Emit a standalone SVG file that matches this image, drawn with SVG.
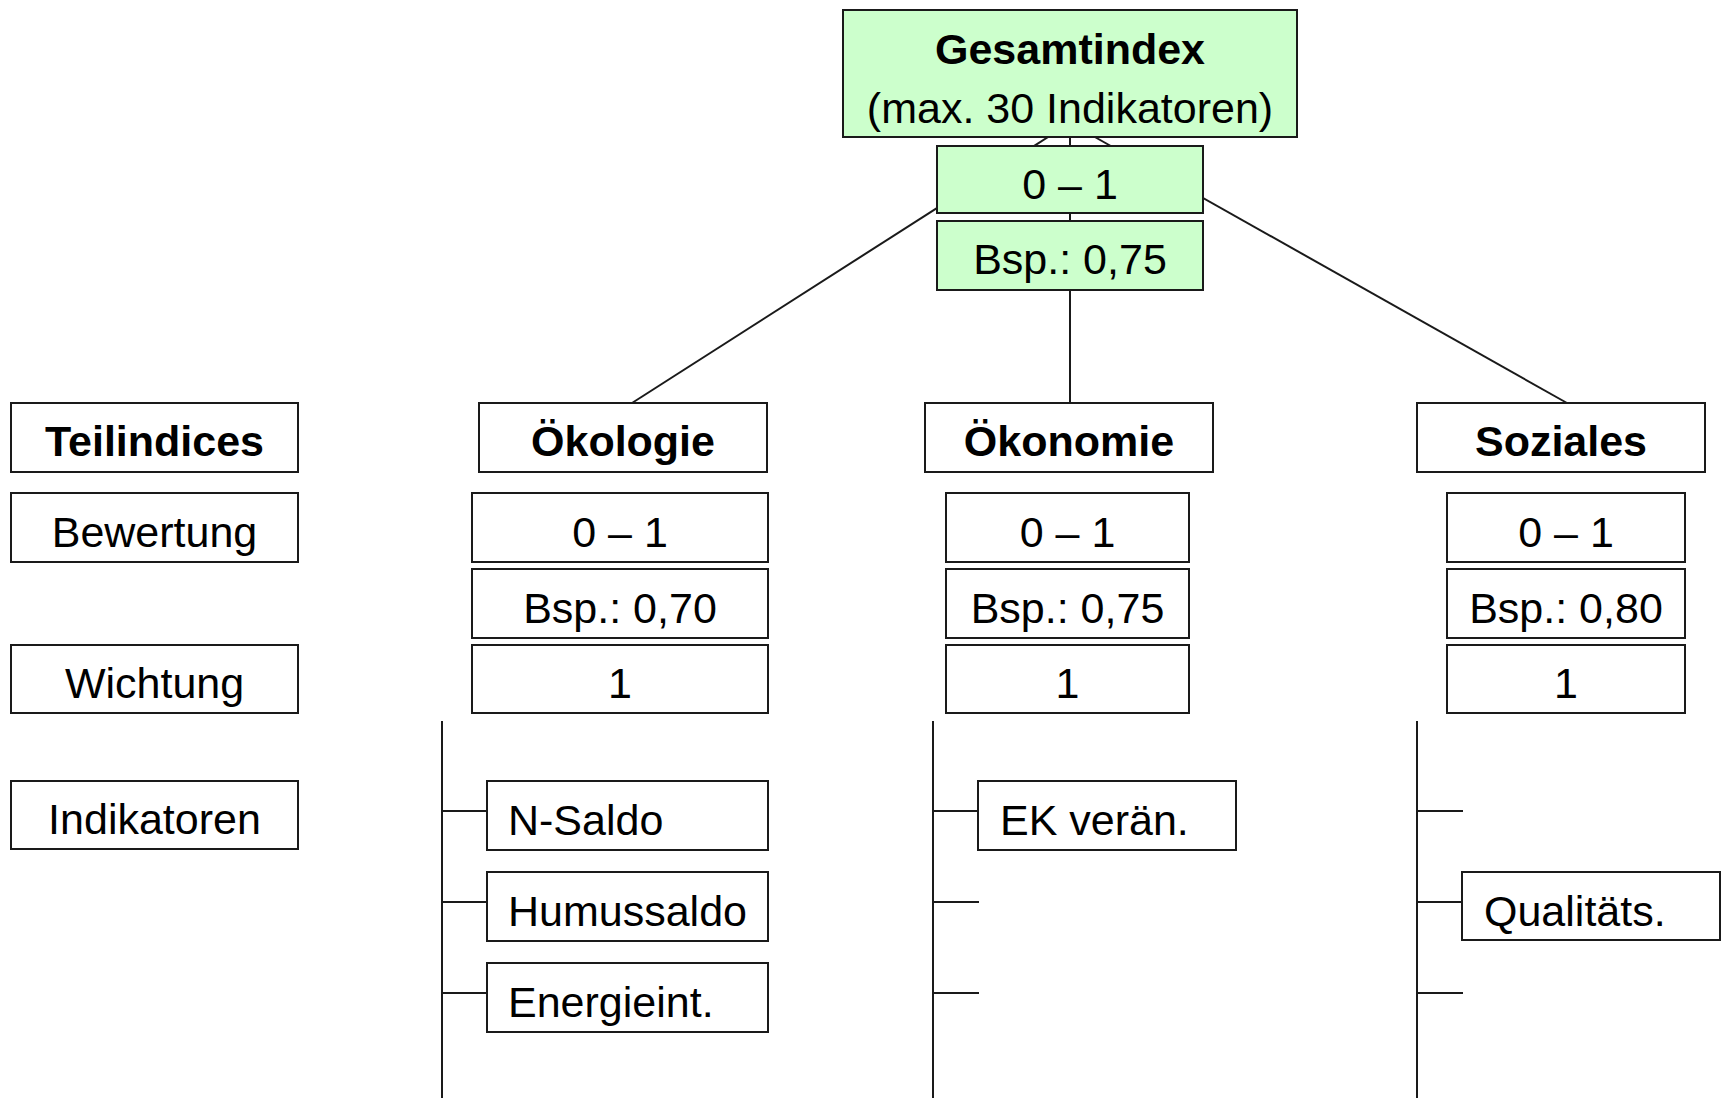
<svg xmlns="http://www.w3.org/2000/svg" width="1725" height="1106" viewBox="0 0 1725 1106">
<style>
.box{fill:#ffffff;stroke:#1a1a1a;stroke-width:2}
.green{fill:#ccffcc;stroke:#1a1a1a;stroke-width:2}
.t{font-family:"Liberation Sans",Arial,sans-serif;font-size:43px;fill:#000;text-anchor:middle}
.tl{font-family:"Liberation Sans",Arial,sans-serif;font-size:43px;fill:#000;text-anchor:start}
.b{font-weight:bold}
.ln{stroke:#1a1a1a;stroke-width:2;fill:none}
</style>
<rect width="1725" height="1106" fill="#ffffff"/>
<g id="connectors">
<line class="ln" x1="1070" y1="123" x2="632" y2="403"/>
<line class="ln" x1="1070" y1="123" x2="1567" y2="403"/>
<line class="ln" x1="1070" y1="123" x2="1070" y2="403"/>
<line class="ln" x1="442" y1="721" x2="442" y2="1098"/>
<line class="ln" x1="442" y1="811" x2="487" y2="811"/>
<line class="ln" x1="442" y1="902" x2="487" y2="902"/>
<line class="ln" x1="442" y1="993" x2="487" y2="993"/>
<line class="ln" x1="933" y1="721" x2="933" y2="1098"/>
<line class="ln" x1="933" y1="811" x2="979" y2="811"/>
<line class="ln" x1="933" y1="902" x2="979" y2="902"/>
<line class="ln" x1="933" y1="993" x2="979" y2="993"/>
<line class="ln" x1="1417" y1="721" x2="1417" y2="1098"/>
<line class="ln" x1="1417" y1="811" x2="1463" y2="811"/>
<line class="ln" x1="1417" y1="902" x2="1463" y2="902"/>
<line class="ln" x1="1417" y1="993" x2="1463" y2="993"/>
</g>
<g id="gesamtindex">
<rect class="green" x="843" y="10" width="454" height="127"/>
<text class="t b" x="1070" y="64">Gesamtindex</text>
<text class="t" x="1070" y="123">(max. 30 Indikatoren)</text>
</g>
<g id="gesamt-range">
<rect class="green" x="937" y="146" width="266" height="67"/>
<text class="t" x="1070" y="199">0 – 1</text>
</g>
<g id="gesamt-bsp">
<rect class="green" x="937" y="221" width="266" height="69"/>
<text class="t" x="1070" y="274">Bsp.: 0,75</text>
</g>
<g id="label-teilindices">
<rect class="box" x="11" y="403" width="287" height="69"/>
<text class="t b" x="154.5" y="456">Teilindices</text>
</g>
<g id="label-bewertung">
<rect class="box" x="11" y="493" width="287" height="69"/>
<text class="t" x="154.5" y="547">Bewertung</text>
</g>
<g id="label-wichtung">
<rect class="box" x="11" y="645" width="287" height="68"/>
<text class="t" x="154.5" y="698">Wichtung</text>
</g>
<g id="label-indikatoren">
<rect class="box" x="11" y="781" width="287" height="68"/>
<text class="t" x="154.5" y="834">Indikatoren</text>
</g>
<g id="oekologie">
<rect class="box" x="479" y="403" width="288" height="69"/>
<text class="t b" x="623" y="456">Ökologie</text>
</g>
<g id="oekologie-range">
<rect class="box" x="472" y="493" width="296" height="69"/>
<text class="t" x="620" y="547">0 – 1</text>
</g>
<g id="oekologie-bsp">
<rect class="box" x="472" y="569" width="296" height="69"/>
<text class="t" x="620" y="623">Bsp.: 0,70</text>
</g>
<g id="oekologie-weight">
<rect class="box" x="472" y="645" width="296" height="68"/>
<text class="t" x="620" y="698">1</text>
</g>
<g id="oekonomie">
<rect class="box" x="925" y="403" width="288" height="69"/>
<text class="t b" x="1069" y="456">Ökonomie</text>
</g>
<g id="oekonomie-range">
<rect class="box" x="946" y="493" width="243" height="69"/>
<text class="t" x="1067.5" y="547">0 – 1</text>
</g>
<g id="oekonomie-bsp">
<rect class="box" x="946" y="569" width="243" height="69"/>
<text class="t" x="1067.5" y="623">Bsp.: 0,75</text>
</g>
<g id="oekonomie-weight">
<rect class="box" x="946" y="645" width="243" height="68"/>
<text class="t" x="1067.5" y="698">1</text>
</g>
<g id="soziales">
<rect class="box" x="1417" y="403" width="288" height="69"/>
<text class="t b" x="1561" y="456">Soziales</text>
</g>
<g id="soziales-range">
<rect class="box" x="1447" y="493" width="238" height="69"/>
<text class="t" x="1566" y="547">0 – 1</text>
</g>
<g id="soziales-bsp">
<rect class="box" x="1447" y="569" width="238" height="69"/>
<text class="t" x="1566" y="623">Bsp.: 0,80</text>
</g>
<g id="soziales-weight">
<rect class="box" x="1447" y="645" width="238" height="68"/>
<text class="t" x="1566" y="698">1</text>
</g>
<g id="ind-nsaldo">
<rect class="box" x="487" y="781" width="281" height="69"/>
<text class="tl" x="508" y="835">N-Saldo</text>
</g>
<g id="ind-humussaldo">
<rect class="box" x="487" y="872" width="281" height="69"/>
<text class="tl" x="508" y="926">Humussaldo</text>
</g>
<g id="ind-energieint">
<rect class="box" x="487" y="963" width="281" height="69"/>
<text class="tl" x="508" y="1017">Energieint.</text>
</g>
<g id="ind-ek">
<rect class="box" x="978" y="781" width="258" height="69"/>
<text class="tl" x="1000" y="835">EK verän.</text>
</g>
<g id="ind-qualitaets">
<rect class="box" x="1462" y="872" width="258" height="68"/>
<text class="tl" x="1484" y="926">Qualitäts.</text>
</g>
</svg>
